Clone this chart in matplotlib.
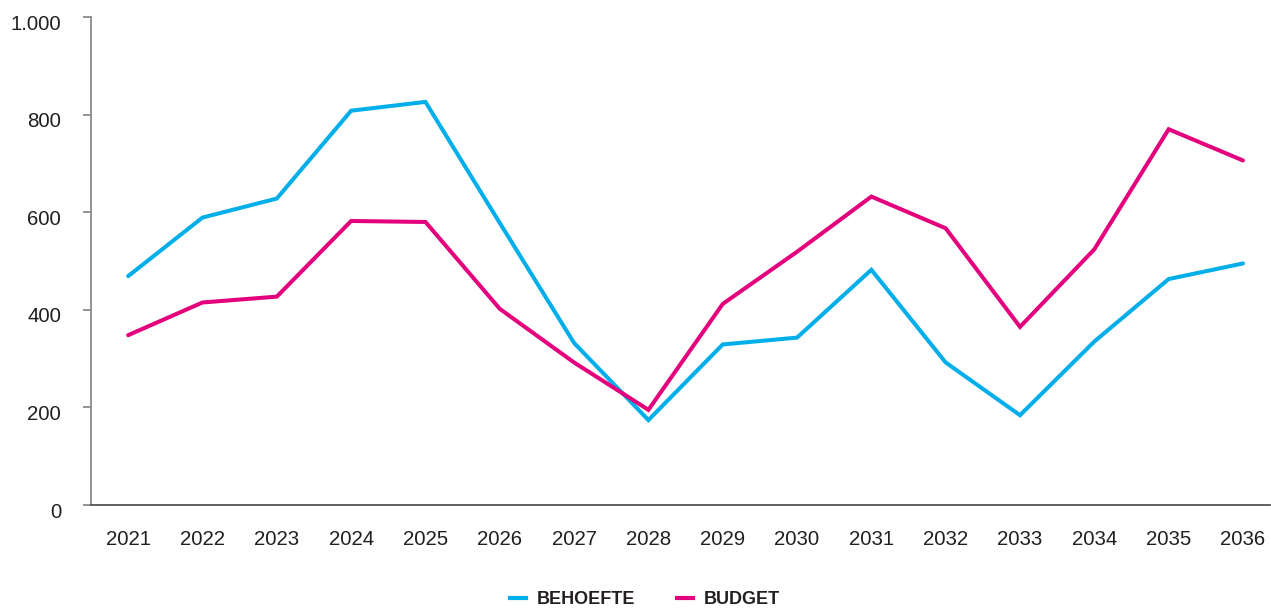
import matplotlib
matplotlib.use("Agg")
import matplotlib.pyplot as plt
import matplotlib.transforms as mtransforms
from matplotlib.lines import Line2D

years = [2021, 2022, 2023, 2024, 2025, 2026, 2027, 2028,
         2029, 2030, 2031, 2032, 2033, 2034, 2035, 2036]
behoefte = [469, 589, 628, 808, 826, 578, 332, 174,
            329, 343, 482, 292, 184, 335, 463, 495]
budget = [348, 415, 427, 582, 580, 402, 292, 195,
          412, 519, 632, 567, 365, 524, 770, 706]
series_names = ["BEHOEFTE", "BUDGET"]
y_ticks = [0, 200, 400, 600, 800, 1000]
y_tick_labels = ["0", "200", "400", "600", "800", "1.000"]

col_behoefte = "#00AEEA"
col_budget = "#E4007C"
text_col = "#231F20"
spine_col = "#8A8A8A"

plt.rcParams['font.family'] = ['Liberation Sans', 'DejaVu Sans']

fig = plt.figure(figsize=(12.71, 6.08), dpi=100)
ax = fig.add_axes([91/1271, (608-505)/608, (1270-91)/1271, (505-17)/608])

ax.plot(years, behoefte, color=col_behoefte, lw=2.9, solid_joinstyle='miter',
        solid_capstyle='round', label=series_names[0])
ax.plot(years, budget, color=col_budget, lw=2.9, solid_joinstyle='miter',
        solid_capstyle='round', label=series_names[1])

ax.set_xlim(2020.5, 2036 + 27/74.27)
ax.set_ylim(0, 1000)
ax.set_xticks(years)
ax.set_xticklabels([str(y) for y in years])
ax.set_yticks(y_ticks)
ax.set_yticklabels(y_tick_labels)

for s in ['top', 'right']:
    ax.spines[s].set_visible(False)
ax.spines['left'].set_color(spine_col)
ax.spines['left'].set_linewidth(1.3)
ax.spines['bottom'].set_color("#555555")
ax.spines['bottom'].set_linewidth(1.3)

ax.tick_params(axis='y', length=5.5, width=1.3, color=spine_col, pad=16,
               labelsize=14.7, labelcolor=text_col)
ax.tick_params(axis='x', length=0, pad=18, labelsize=14.7, labelcolor=text_col)

offset = mtransforms.ScaledTranslation(0, -5/100, fig.dpi_scale_trans)
for lbl in ax.get_yticklabels():
    lbl.set_transform(lbl.get_transform() + offset)

handles = [Line2D([], [], color=col_behoefte, lw=3),
           Line2D([], [], color=col_budget, lw=3)]
leg = fig.legend(handles, series_names, loc='center', ncol=2,
                 bbox_to_anchor=(645/1271, 1 - 600/608), frameon=False,
                 handlelength=0.9, handletextpad=0.6, columnspacing=2.3,
                 prop={'weight': 'bold', 'size': 13})
for t in leg.get_texts():
    t.set_color(text_col)

fig.savefig("out.png", dpi=100)
